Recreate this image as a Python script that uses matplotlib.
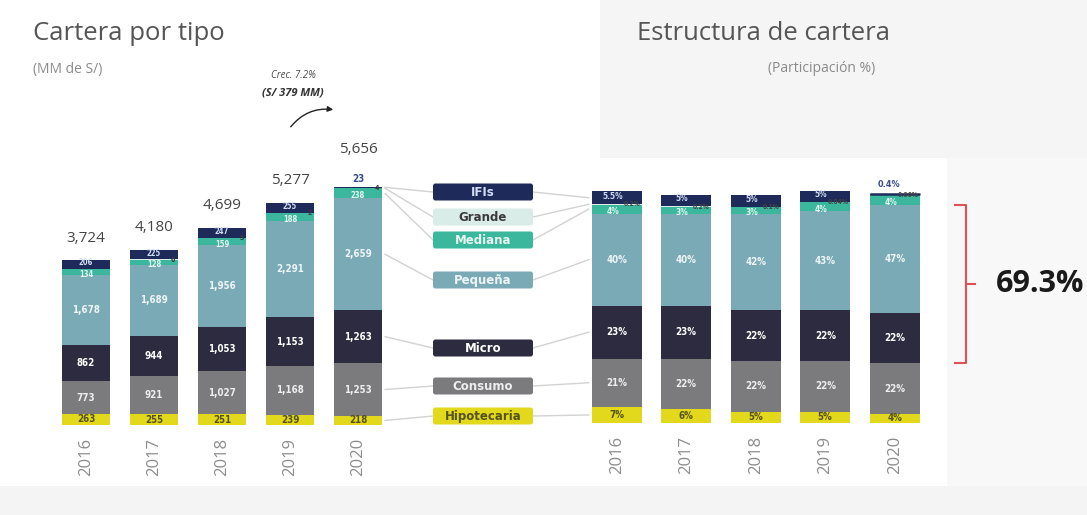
import matplotlib
matplotlib.use("Agg")
import matplotlib.pyplot as plt
import numpy as np
from matplotlib.patches import FancyBboxPatch, Rectangle, FancyArrowPatch
from matplotlib.transforms import blended_transform_factory

# ---------------- data ----------------
years = ["2016", "2017", "2018", "2019", "2020"]
categorias = ["Hipotecaria", "Consumo", "Micro", "Pequeña", "Mediana", "Grande", "IFIs"]  # bottom -> top

# Cartera por tipo (MM de S/)
monto_hipotecaria = [263, 255, 251, 239, 218]
monto_consumo = [773, 921, 1027, 1168, 1253]
monto_micro = [862, 944, 1053, 1153, 1263]
monto_pequena = [1678, 1689, 1956, 2291, 2659]
monto_mediana = [134, 128, 159, 188, 238]
monto_grande = [7, 6, 5, 2, 4]
monto_ifis = [206, 225, 247, 255, 23]
etiquetas_grande = ["", "6", "5", "2", "4"]
totales = [3724, 4180, 4699, 5277, 5656]

# Estructura de cartera (participación %)
part_hipotecaria = [7, 6, 5, 5, 4]
part_consumo = [21, 22, 22, 22, 22]
part_micro = [23, 23, 22, 22, 22]
part_pequena = [40, 40, 42, 43, 47]
part_mediana = [4, 3, 3, 4, 4]
part_grande = [0.2, 0.2, 0.1, 0.04, 0.06]
part_ifis = [5.5, 5, 5, 5, 0.4]

concentracion = "69.3%"

# ---------------- styling ----------------
colores = {
    "Hipotecaria": "#e2d81c",
    "Consumo": "#7b7b7e",
    "Micro": "#2c2b3f",
    "Pequeña": "#7aaab6",
    "Mediana": "#3bb79e",
    "Grande": "#d9ece8",
    "IFIs": "#1d2a5a",
}
color_texto = {
    "Hipotecaria": "#55521a",
    "Consumo": "#eeeeee",
    "Micro": "#ffffff",
    "Pequeña": "#eef5f7",
    "Mediana": "#e6f6f1",
    "Grande": "#3a3a3a",
    "IFIs": "#d4def6",
}
# small vertical nudges (points) for the crowded top segments
nudge = {"IFIs": 1.2, "Mediana": -1.8}

W, H = 1087, 515
fig = plt.figure(figsize=(W / 100, H / 100), dpi=100)
fig.patch.set_facecolor("white")


def box(x0, y0, x1, y1):
    """pixel box (top-left origin) -> figure fraction rect"""
    return [x0 / W, 1 - y1 / H, (x1 - x0) / W, (y1 - y0) / H]


# soft background panels
bg = fig.add_axes([0, 0, 1, 1], zorder=0)
bg.set_xlim(0, W)
bg.set_ylim(H, 0)
bg.axis("off")
bg.add_patch(Rectangle((600, 0), 487, 158, color="#f5f5f5", lw=0))
bg.add_patch(Rectangle((947, 158), 140, 330, color="#f8f8f8", lw=0))
bg.add_patch(Rectangle((0, 486), W, 29, color="#f4f4f4", lw=0))

x = np.arange(len(years))
bar_w = 0.71

ax1 = fig.add_axes(box(52, 152, 392, 425), zorder=1)
ax2 = fig.add_axes(box(582, 170, 929.5, 423), zorder=1)
ax1.set_ylim(0, 6500)
ax2.set_ylim(0, 110)
for ax in (ax1, ax2):
    ax.set_xlim(-0.5, len(years) - 0.5)
    ax.patch.set_alpha(0)
    for s in ax.spines.values():
        s.set_visible(False)
    ax.set_yticks([])
    ax.set_xticks(x, years, rotation=90, fontsize=12, color="#8c8c8c", family="Open Sans")
    ax.tick_params(axis="x", length=0, pad=9)

lab_font = dict(family="DejaVu Sans", fontstretch="condensed", fontweight="bold", va="center")

# ---------- left: amounts ----------
series_monto = [monto_hipotecaria, monto_consumo, monto_micro, monto_pequena,
                monto_mediana, monto_grande, monto_ifis]
bottom = np.zeros(len(years))
tops_left = {}
for cat, vals in zip(categorias, series_monto):
    vals = np.array(vals, dtype=float)
    ax1.bar(x, vals, width=bar_w, bottom=bottom, color=colores[cat], linewidth=0)
    for i, v in enumerate(vals):
        mid = bottom[i] + v / 2
        if cat == "Grande":
            if etiquetas_grande[i]:
                ax1.text(x[i] + bar_w / 2 - 0.04, mid, etiquetas_grande[i], fontsize=5,
                         color="#3a3a3a", ha="right", **lab_font)
        elif cat == "IFIs" and v < 100:
            ax1.annotate(f"{v:,.0f}", (x[i], bottom[i] + v), xytext=(0, 6), textcoords="offset points",
                         fontsize=7, color="#3b4c8c", ha="center", **lab_font)
        else:
            size = 5.5 if cat in nudge else 7
            ax1.annotate(f"{v:,.0f}", (x[i], mid), xytext=(0, nudge.get(cat, 0)),
                         textcoords="offset points", fontsize=size, color=color_texto[cat],
                         ha="center", **lab_font)
    tops_left[cat] = (bottom.copy(), vals)
    bottom += vals

for i, t in enumerate(totales):
    off = 27 if monto_ifis[i] < 100 else 16
    ax1.annotate(f"{t:,}", (x[i], bottom[i]), xytext=(0, off), textcoords="offset points",
                 ha="center", va="center", fontsize=11, color="#454545", family="Open Sans")

# ---------- right: shares ----------
series_part = [part_hipotecaria, part_consumo, part_micro, part_pequena,
               part_mediana, part_grande, part_ifis]
bar_w2 = 0.72
bottom = np.zeros(len(years))
tops_right = {}
for cat, vals in zip(categorias, series_part):
    vals = np.array(vals, dtype=float)
    ax2.bar(x, vals, width=bar_w2, bottom=bottom, color=colores[cat], linewidth=0)
    for i, v in enumerate(vals):
        mid = bottom[i] + v / 2
        txt = f"{v:g}%"
        if cat == "Grande":
            ax2.text(x[i] + bar_w2 / 2 - 0.02, mid, txt, fontsize=4.8, color="#444444",
                     ha="right", **lab_font)
        elif cat == "IFIs" and v < 2:
            ax2.plot([x[i] - bar_w2 / 2, x[i] + bar_w2 / 2], [bottom[i] + v] * 2,
                     color=colores[cat], lw=1.8, solid_capstyle="butt")
            ax2.annotate(txt, (x[i], bottom[i] + v), xytext=(-4, 7), textcoords="offset points",
                         fontsize=6.5, color="#3b4c8c", ha="center", **lab_font)
        else:
            size = 6 if cat in nudge else 7
            ax2.annotate(txt, (x[i], mid), xytext=(-3 if cat in nudge else 0, nudge.get(cat, 0)),
                         textcoords="offset points", fontsize=size, color=color_texto[cat],
                         ha="center", **lab_font)
    tops_right[cat] = (bottom.copy(), vals)
    bottom += vals

# ---------- overlay: legend boxes, connectors, annotations ----------
ov = fig.add_axes([0, 0, 1, 1], zorder=3)
ov.set_xlim(0, W)
ov.set_ylim(H, 0)
ov.axis("off")
ov.patch.set_alpha(0)

inv = ov.transData.inverted()


def to_ov(ax, pt):
    return inv.transform(ax.transData.transform(pt))


leyenda_y = {"IFIs": 192, "Grande": 217, "Mediana": 240, "Pequeña": 280,
             "Micro": 348, "Consumo": 386, "Hipotecaria": 416}
bx0, bx1, bh = 433, 533, 17

for cat in categorias:
    yc = leyenda_y[cat]
    # connector from the 2020 amount bar
    b, v = tops_left[cat]
    yv = b[-1] + v[-1] if cat == "IFIs" else b[-1] + v[-1] / 2
    p0 = to_ov(ax1, (x[-1] + bar_w / 2, yv))
    ov.plot([p0[0] + 3, bx0], [p0[1], yc], color="#d2d2d2", lw=1, zorder=1)
    # connector to the 2016 share bar
    b, v = tops_right[cat]
    yv = b[0] + v[0] / 2
    p1 = to_ov(ax2, (x[0] - bar_w2 / 2, yv))
    ov.plot([bx1, p1[0] - 3], [yc, p1[1]], color="#d2d2d2", lw=1, zorder=1)
    ov.add_patch(FancyBboxPatch((bx0, yc - bh / 2), bx1 - bx0, bh,
                                boxstyle="round,pad=0,rounding_size=2.5",
                                fc=colores[cat], ec="none", zorder=2))
    ov.text((bx0 + bx1) / 2, yc + 0.5, cat, fontsize=8.5, color=color_texto[cat], zorder=3,
            family="DejaVu Sans", fontweight="bold", ha="center", va="center")

# titles
ov.text(33, 34, "Cartera por tipo", fontsize=18.5, color="#555555", family="Open Sans",
        ha="left", va="center")
ov.text(33, 70, "(MM de S/)", fontsize=10, color="#8a8a8a", family="Open Sans", ha="left", va="center")
ov.text(637, 34, "Estructura de cartera", fontsize=18.5, color="#555555", family="Open Sans",
        ha="left", va="center")
ov.text(768, 69, "(Participación %)", fontsize=10, color="#8a8a8a", family="Open Sans",
        ha="left", va="center")

# growth note with arrow
ov.text(293, 75, "Crec. 7.2%", fontsize=7, style="italic", color="#4a4a4a", family="Open Sans",
        ha="center", va="center")
ov.text(293, 93, "(S/ 379 MM)", fontsize=8, style="italic", fontweight="bold", color="#333333",
        family="Open Sans", ha="center", va="center")
ov.add_patch(FancyArrowPatch((289, 129), (336, 110), connectionstyle="arc3,rad=-0.3",
                             arrowstyle="-|>", mutation_scale=8, color="#222222", lw=1))

# bracket over Pequeña + Micro of the latest year
tr = blended_transform_factory(ov.transData, ax2.transData)
y_lo = part_hipotecaria[-1] + part_consumo[-1]
y_hi = y_lo + part_micro[-1] + part_pequena[-1]
y_mid = (y_lo + y_hi) / 2
ov.plot([955, 966, 966, 955], [y_hi, y_hi, y_lo, y_lo], transform=tr, color="#e0505a", lw=1.5)
ov.plot([966, 975], [y_mid, y_mid], transform=tr, color="#e0505a", lw=1.5)
ov.text(996, y_mid, concentracion, transform=tr, fontsize=22, fontweight="bold",
        color="#1a1a1a", family="Open Sans", ha="left", va="center")

fig.savefig("out.png", dpi=100, facecolor=fig.get_facecolor())
